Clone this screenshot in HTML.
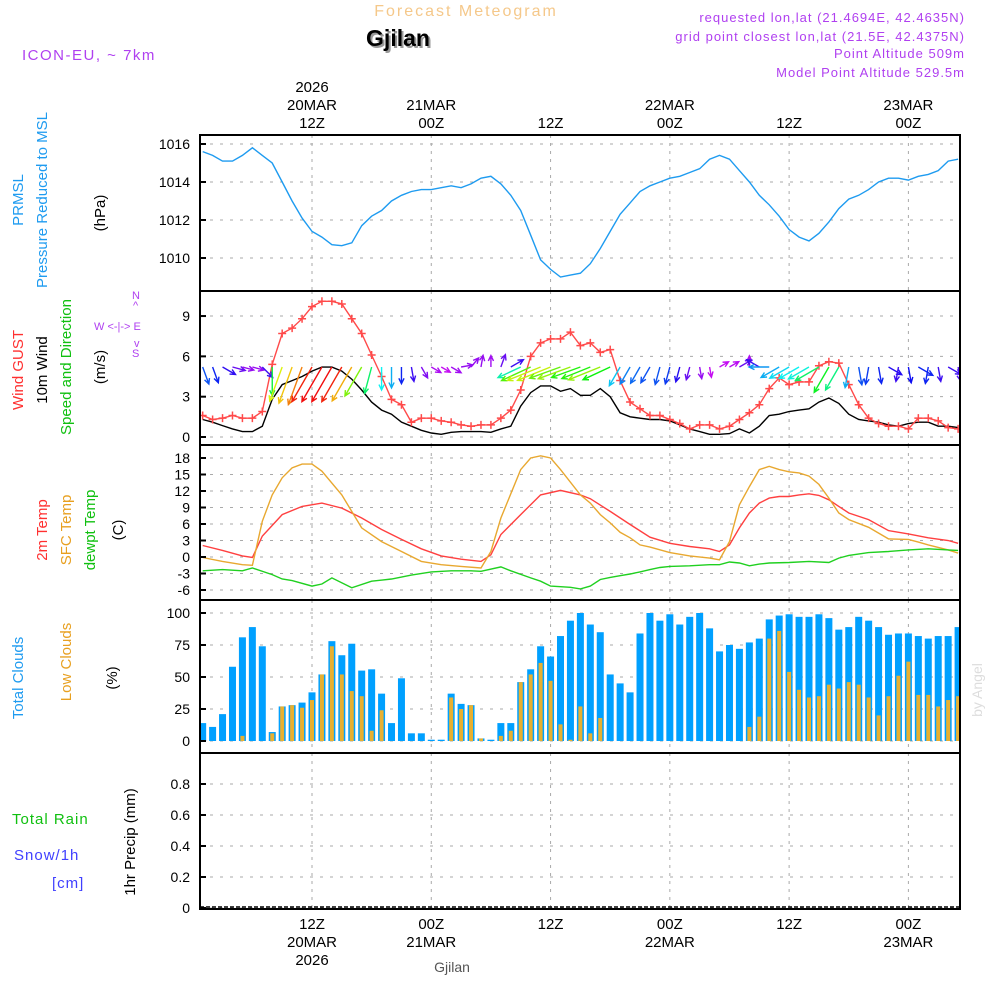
<!DOCTYPE html>
<html><head><meta charset="utf-8"><style>
html,body{margin:0;padding:0;background:#fff}
svg{display:block}
text{font-family:"Liberation Sans",sans-serif}
</style></head><body>
<svg id="chart" width="1000" height="1000" viewBox="0 0 1000 1000" xmlns="http://www.w3.org/2000/svg">
<g id="hdr">
<text x="466" y="16" text-anchor="middle" font-size="16" fill="#f5c88a" letter-spacing="2">Forecast Meteogram</text>
<text x="400" y="48" text-anchor="middle" font-size="23" font-weight="bold" font-family="Liberation Serif,serif" fill="#999">Gjilan</text>
<text x="398" y="46" text-anchor="middle" font-size="23" font-weight="bold" font-family="Liberation Serif,serif" fill="#000">Gjilan</text>
<text x="22" y="60" font-size="15" fill="#b040f0" letter-spacing="1.5">ICON-EU, ~ 7km</text>
<g fill="#b040f0" font-size="13" text-anchor="end" letter-spacing="1">
<text x="965" y="22">requested lon,lat (21.4694E, 42.4635N)</text>
<text x="965" y="41">grid point closest lon,lat (21.5E, 42.4375N)</text>
<text x="965" y="58">Point Altitude 509m</text>
<text x="965" y="77">Model Point Altitude 529.5m</text>
</g>
</g>
<g id="grid"></g>
<g id="plots"></g>
<g id="axes"></g>
<g id="labels" font-size="15">
<text transform="translate(23,200) rotate(-90)" text-anchor="middle" fill="#1e9bf0">PRMSL</text>
<text transform="translate(47,200) rotate(-90)" text-anchor="middle" fill="#1e9bf0">Pressure Reduced to MSL</text>
<text transform="translate(105,213) rotate(-90)" text-anchor="middle" fill="#000">(hPa)</text>
<text transform="translate(23,370) rotate(-90)" text-anchor="middle" fill="#ff3030">Wind GUST</text>
<text transform="translate(47,370) rotate(-90)" text-anchor="middle" fill="#000">10m Wind</text>
<text transform="translate(71,367) rotate(-90)" text-anchor="middle" fill="#10c010">Speed and Direction</text>
<text transform="translate(105,367) rotate(-90)" text-anchor="middle" fill="#000">(m/s)</text>
<g fill="#b040f0" font-size="11">
<text x="132" y="299">N</text><text x="133" y="309">^</text>
<text x="94" y="330">W  &lt;-|-&gt;  E</text>
<text x="134" y="347">v</text><text x="132" y="357">S</text>
</g>
<text transform="translate(47,530) rotate(-90)" text-anchor="middle" fill="#ff3030">2m Temp</text>
<text transform="translate(71,530) rotate(-90)" text-anchor="middle" fill="#e8a020">SFC Temp</text>
<text transform="translate(95,530) rotate(-90)" text-anchor="middle" fill="#10c010">dewpt Temp</text>
<text transform="translate(123,530) rotate(-90)" text-anchor="middle" fill="#000">(C)</text>
<text transform="translate(23,678) rotate(-90)" text-anchor="middle" fill="#1e9bf0">Total Clouds</text>
<text transform="translate(71,662) rotate(-90)" text-anchor="middle" fill="#e8a020">Low Clouds</text>
<text transform="translate(117,678) rotate(-90)" text-anchor="middle" fill="#000">(%)</text>
<text x="12" y="824" fill="#10c010" letter-spacing="1">Total  Rain</text>
<text x="14" y="860" fill="#4040ff" letter-spacing="1">Snow/1h</text>
<text x="52" y="888" fill="#4040ff" letter-spacing="1">[cm]</text>
<text transform="translate(135,842) rotate(-90)" text-anchor="middle" fill="#000">1hr Precip (mm)</text>
<text transform="translate(982,690) rotate(-90)" text-anchor="middle" font-family="Liberation Serif,serif" font-size="14" fill="#ddd">by Angel</text>
<text x="452" y="972" text-anchor="middle" font-family="Liberation Serif,serif" font-size="14" fill="#555">Gjilan</text>
</g>
</svg>
<script>
const hours = [];
for (let i = 1; i <= 77; i++) hours.push(i);
const pressure = [1015.6,1015.4,1015.1,1015.1,1015.4,1015.8,1015.4,1015.0,1014.0,1013.0,1012.1,1011.4,1011.1,1010.7,1010.65,1010.8,1011.7,1012.2,1012.5,1013.0,1013.3,1013.5,1013.6,1013.6,1013.7,1013.8,1013.7,1013.9,1014.2,1014.3,1013.9,1013.3,1012.5,1011.2,1009.9,1009.4,1009.0,1009.1,1009.2,1009.7,1010.5,1011.4,1012.3,1012.9,1013.5,1013.8,1014.0,1014.2,1014.3,1014.5,1014.7,1015.2,1015.4,1015.2,1014.6,1014.0,1013.3,1012.8,1012.2,1011.5,1011.1,1010.9,1011.3,1011.9,1012.6,1013.1,1013.3,1013.6,1014.0,1014.2,1014.2,1014.1,1014.3,1014.4,1014.6,1015.1,1015.2];
const gust = [1.6,1.3,1.4,1.6,1.4,1.4,1.9,5.4,7.7,8.1,8.8,9.7,10.1,10.1,9.9,8.8,7.7,6.1,4.5,2.8,2.4,1.1,1.4,1.4,1.2,1.1,0.9,0.8,0.9,0.9,1.4,2.0,3.5,6.0,7.0,7.3,7.3,7.8,6.8,7.0,6.3,6.5,4.2,2.6,2.1,1.6,1.6,1.3,1.0,0.6,0.9,0.9,0.6,0.8,1.3,1.8,2.4,3.6,4.4,3.9,4.1,4.1,5.3,5.6,5.5,3.9,2.4,1.4,1.0,0.8,0.8,0.6,1.4,1.4,1.2,0.7,0.6];
const wind = [1.3,1.1,0.85,0.6,0.4,0.4,0.8,2.8,3.9,4.2,4.5,4.9,5.2,5.2,4.9,4.3,3.5,2.6,2.0,1.7,1.1,0.8,0.5,0.3,0.2,0.35,0.4,0.4,0.4,0.35,0.6,0.8,2.3,3.3,3.8,3.8,3.4,3.6,3.1,3.1,3.6,3.0,1.8,1.5,1.4,1.3,1.3,1.2,0.9,0.6,0.4,0.2,0.2,0.25,0.6,0.3,0.8,1.6,1.7,1.9,2.0,2.1,2.6,2.9,2.5,1.7,1.3,1.2,1.1,0.9,0.8,1.0,1.1,1.1,0.8,0.8,0.7];
const windDir = [340,340,300,285,285,285,315,0,20,20,20,30,30,30,30,30,30,15,0,0,0,350,330,300,300,300,260,220,190,180,200,240,65,65,68,68,70,70,70,68,68,65,30,30,30,30,15,15,15,15,350,350,240,240,240,180,120,90,60,60,60,60,60,30,30,10,350,10,350,300,10,350,300,10,350,300,350];
const totalClouds = [14,11,21,58,81,89,74,7,27,28,30,38,52,78,67,76,55,56,37,14,49,6,6,1,1,37,29,28,2,1,14,14,46,56,74,66,82,94,100,91,85,52,45,38,84,100,94,99,91,97,100,88,70,75,72,77,80,95,98,99,97,97,99,96,87,89,97,94,89,83,84,84,82,80,82,82,89];
const lowClouds = [0,0,0,0,4,0,0,6,27,28,26,32,52,74,52,39,35,8,24,0,0,0,0,0,0,34,25,28,2,0,4,8,46,52,61,47,13,1,27,6,18,0,0,0,0,0,0,0,0,0,0,0,0,0,0,11,19,80,86,54,40,34,35,44,41,46,44,34,20,35,51,62,36,36,27,32,35];
const t2mHours = [1,3,5,6,7,9,11,13,15,17,19,21,23,25,27,29,30,31,33,35,37,39,40,42,44,46,48,50,52,53,54,55,56,57,58,59,60,61,62,63,64,65,66,68,70,72,74,76,77];
const t2m = [2.1,1.2,0.2,-0.1,3.8,7.7,9.2,9.8,8.9,7.1,5.0,3.2,1.5,0.2,-0.4,-0.8,0.4,4.1,7.7,11.3,12.1,11.3,10.6,8.3,5.9,3.6,2.5,1.9,1.5,1.0,2.2,5.3,8.0,9.8,10.7,11.0,11.0,11.3,11.5,11.2,10.4,9.2,8.0,6.8,4.8,4.2,3.5,3.0,2.5];
const sfcHours = [1,3,5,6,7,8,9,10,11,12,13,15,17,19,21,23,25,27,29,30,31,33,34,35,36,37,39,40,41,42,43,44,45,46,48,50,52,53,54,55,56,57,58,59,60,61,62,63,64,65,66,68,70,72,73,74,76,77];
const sfcTemp = [-0.1,-0.8,-1.4,-1.5,6.5,11.3,14.4,16.2,16.9,16.9,15.6,11.3,5.3,2.8,1.0,-0.8,-1.4,-1.7,-2.0,1.0,7.1,15.9,18.0,18.4,18.0,15.9,11.3,9.8,7.7,6.2,4.5,3.5,2.2,1.8,0.8,0.2,-0.2,-0.5,2.8,9.5,12.8,15.9,16.5,15.9,15.5,15.3,14.7,13.2,10.7,8.0,6.8,5.4,3.3,3.2,2.7,2.2,1.3,0.7];
const dewHours = [1,3,5,6,8,9,10,12,13,14,16,18,20,22,24,26,28,29,31,32,34,35,36,38,39,40,41,42,43,44,45,46,47,48,50,52,53,54,55,56,57,58,60,62,64,65,66,68,70,72,74,76,77];
const dewTemp = [-2.5,-2.3,-2.5,-2.0,-3.2,-4.0,-4.3,-5.3,-4.9,-3.8,-5.6,-4.4,-4.0,-3.3,-2.7,-2.5,-2.5,-2.6,-1.8,-2.5,-3.8,-4.4,-5.3,-5.5,-5.8,-5.3,-4.1,-3.7,-3.4,-3.1,-2.7,-2.3,-1.9,-1.7,-1.6,-1.4,-1.4,-0.9,-1.1,-1.6,-1.3,-1.1,-1.0,-0.8,-1.0,-0.2,0.3,0.8,1.0,1.3,1.5,1.3,1.2];
const pTicks = [1016,1014,1012,1010];
const wTicks = [9,6,3,0];
const tTicks = [18,15,12,9,6,3,0,-3,-6];
const cTicks = [100,75,50,25,0];
const rTicks = [0.8,0.6,0.4,0.2,0];
const gridHours = [12,24,36,48,60,72];
const topLabels = [["2026","20MAR","12Z"],["","21MAR","00Z"],["","","12Z"],["","22MAR","00Z"],["","","12Z"],["","23MAR","00Z"]];
const botLabels = [["12Z","20MAR","2026"],["00Z","21MAR",""],["12Z","",""],["00Z","22MAR",""],["12Z","",""],["00Z","23MAR",""]];

const NS = "http://www.w3.org/2000/svg";
const X0 = 200, X1 = 960;
function xH(h){ return 312 + (h - 12) * 9.94; }
const yP = v => 144 + (1016 - v) * 19;
const yW = v => 437 - v * 13.44;
const yT = v => 557 - v * 5.5;
const yC = v => 741 - v * 1.28;
const yR = v => 908 - v * 155;
function mk(tag, attrs, parent){
  const e = document.createElementNS(NS, tag);
  for (const k in attrs) e.setAttribute(k, attrs[k]);
  parent.appendChild(e); return e;
}
const svg = document.getElementById('chart');
const grid = document.getElementById('grid');
const plots = document.getElementById('plots');
const axes = document.getElementById('axes');
const defs = mk('defs', {}, svg);
const panels = [[135,291,pTicks,yP],[291,445,wTicks,yW],[445,600,tTicks,yT],[600,753,cTicks,yC],[753,909,rTicks,yR]];
panels.forEach((p, i) => {
  const cp = mk('clipPath', {id: 'clip' + i}, defs);
  mk('rect', {x: X0, y: p[0], width: X1 - X0, height: p[1] - p[0]}, cp);
  p[2].forEach(t => {
    const y = p[3](t);
    const gl = mk('line', {x1: X0, x2: X1, y1: y, y2: y, stroke: '#aaa', 'stroke-dasharray': '3,7'}, grid);
    
    
    const tk = mk('line', {x1: X0, x2: X0 + 6, y1: y, y2: y, stroke: '#000', 'stroke-width': 2}, axes);
    
    
    const tl = mk('text', {x: 190, y: y + 5, 'text-anchor': 'end', 'font-size': 14, fill: '#000'}, axes);
    tl.textContent = (i === 4 && t !== 0) ? t.toFixed(1) : String(t);
    
    
  });
  gridHours.forEach(h => {
    const vl = mk('line', {x1: xH(h), x2: xH(h), y1: p[0], y2: p[1], stroke: '#aaa', 'stroke-dasharray': '3,5'}, grid);
    
    
  });
  const fr = mk('rect', {x: X0, y: p[0], width: X1 - X0, height: p[1] - p[0], fill: 'none', stroke: '#000', 'stroke-width': 2}, axes);
  
  
});
gridHours.forEach((h, i) => {
  topLabels[i].forEach((s, j) => {
    if (!s) return;
    const t = mk('text', {x: xH(h), y: 92 + j * 18, 'text-anchor': 'middle', 'font-size': 15, fill: '#000'}, axes);
    t.textContent = s;
    
    
  });
  botLabels[i].forEach((s, j) => {
    if (!s) return;
    const t = mk('text', {x: xH(h), y: 929 + j * 18, 'text-anchor': 'middle', 'font-size': 15, fill: '#000'}, axes);
    t.textContent = s;
    
    
  });
});
function line(hs, vs, yf, color, clip, name){
  const d = hs.map((h, i) => (i ? 'L' : 'M') + xH(h).toFixed(1) + ',' + yf(vs[i]).toFixed(1)).join('');
  const pth = mk('path', {d: d, fill: 'none', stroke: color, 'stroke-width': 1.4, 'clip-path': 'url(#clip' + clip + ')'}, plots);
  
  
}
line(hours, pressure, yP, '#1e9bf0', 0, 'pressure-line');
const cg = mk('g', {'clip-path': 'url(#clip3)'}, plots);
hours.forEach((h, i) => {
  const x = xH(h);
  const b = mk('rect', {x: x - 3.5, y: yC(totalClouds[i]), width: 7, height: yC(0) - yC(totalClouds[i]), fill: '#00a0ff'}, cg);
  
  
  if (lowClouds[i] > 0) {
    const lb = mk('rect', {x: x - 2, y: yC(lowClouds[i]), width: 4, height: yC(0) - yC(lowClouds[i]), fill: '#e8b030'}, cg);
    
    
  }
});
line(hours, wind, yW, '#000', 1, 'mean-wind-line');
line(hours, gust, yW, '#ff4a4a', 1, 'gust-line');
const wg = mk('g', {'clip-path': 'url(#clip1)'}, plots);
hours.forEach((h, i) => {
  const x = xH(h), y = yW(gust[i]);
  const m = mk('path', {d: `M${x-4},${y}H${x+4}M${x},${y-4}V${y+4}`, stroke: '#ff4a4a', 'stroke-width': 1.5}, wg);
  
  
});
hours.forEach((h, i) => {
  const sp = wind[i], a = windDir[i] * Math.PI / 180;
  const len = Math.min(40, 9 + 7 * sp);
  const dx = -Math.sin(a), dy = Math.cos(a);
  const x0 = xH(h), y0 = 367;
  const x1 = x0 + dx * len, y1 = y0 + dy * len;
  const hue = Math.max(0, 300 - sp * 60);
  const col = `hsl(${hue},90%,50%)`;
  const hl = 6, ha = 0.45;
  const bx = -dx, by = -dy;
  const p1x = x1 + hl * (bx * Math.cos(ha) - by * Math.sin(ha)), p1y = y1 + hl * (bx * Math.sin(ha) + by * Math.cos(ha));
  const p2x = x1 + hl * (bx * Math.cos(-ha) - by * Math.sin(-ha)), p2y = y1 + hl * (bx * Math.sin(-ha) + by * Math.cos(-ha));
  const ar = mk('path', {d: `M${x0},${y0}L${x1},${y1}M${p1x},${p1y}L${x1},${y1}L${p2x},${p2y}`, stroke: col, 'stroke-width': 1.4, fill: 'none'}, wg);
  
  
});
line(t2mHours, t2m, yT, '#ff4040', 2, 't2m-line');
line(sfcHours, sfcTemp, yT, '#e8a830', 2, 'sfc-temp-line');
line(dewHours, dewTemp, yT, '#20d020', 2, 'dewpoint-line');
const z = mk('line', {x1: X0, x2: X1, y1: 907, y2: 907, stroke: '#000', 'stroke-width': 1.5, 'stroke-dasharray': '4,2'}, plots);


</script>
</body></html>
